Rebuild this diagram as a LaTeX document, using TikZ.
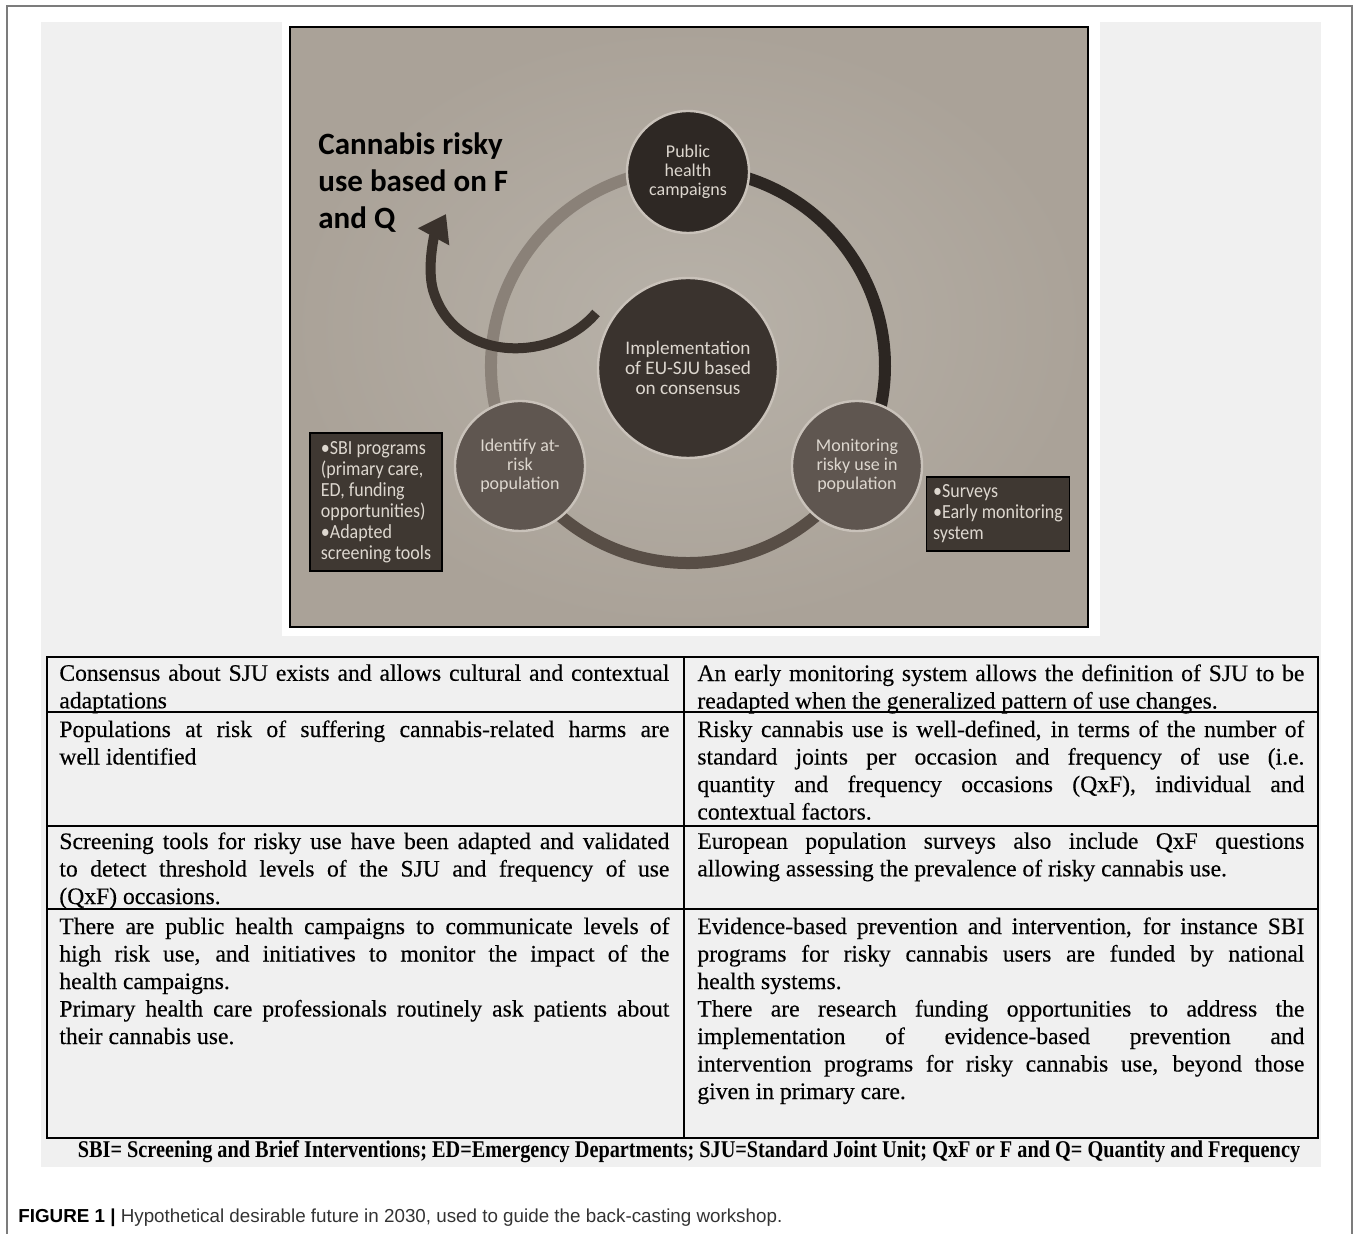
\documentclass[tikz,border=0pt]{standalone}
\usepackage{fontspec}
\setmainfont{Liberation Serif}
\setsansfont{Carlito}
\newfontfamily\capfont{Liberation Sans}
\newfontfamily\cellfont[FakeBold=0.3]{Liberation Serif}
\newfontfamily\footfont[FakeStretch=0.845]{Liberation Serif}
\newfontfamily\boxfont[FakeStretch=0.9]{Carlito}
\usetikzlibrary{arrows.meta}

\definecolor{frame}{HTML}{7C7C7C}
\definecolor{panel}{HTML}{F0F0F0}
\definecolor{slidelight}{HTML}{B8B2A9}
\definecolor{slidedark}{HTML}{AAA298}
\definecolor{ringdark}{HTML}{2C2622}
\definecolor{ringmid}{HTML}{584E46}
\definecolor{ringlight}{HTML}{8A8178}
\definecolor{topdisc}{HTML}{2E2824}
\definecolor{hubdisc}{HTML}{3A332E}
\definecolor{sidedisc}{HTML}{5F5650}
\definecolor{rim}{HTML}{C9C2BA}
\definecolor{boxfill}{HTML}{3F3832}
\definecolor{slidetext}{HTML}{DDD7CF}
\definecolor{arrowcol}{HTML}{3A322C}
\definecolor{captext}{HTML}{333333}

\hyphenpenalty=10000
\tolerance=9999

\begin{document}
\begin{tikzpicture}[x=0.5pt,y=-0.5pt,
    disc/.style={circle,draw=rim,line width=1.2pt,text=slidetext,align=center,inner sep=0pt,
      font=\sffamily\fontsize{9}{9.6}\selectfont},
    infobox/.style={draw=black,line width=0.8pt,fill=boxfill,text=slidetext,align=left,inner sep=2.5pt,
      font=\boxfont\fontsize{10}{10.5}\selectfont},
    cell/.style={anchor=north west,inner sep=0pt,align=justify,font=\cellfont\fontsize{11.8}{13.75}\selectfont},
    ring/.style={line width=6pt}]

\useasboundingbox (0,0) rectangle (1357,1234);

% page frame and grey panel
\draw[frame,line width=0.8pt] (7,1234) -- (7,6) -- (1352,6) -- (1352,1234);
\fill[panel] (41,22) rectangle (1321,1167);

% slide
\fill[white] (282,20) rectangle (1100,636);
\shade[inner color=slidelight,outer color=slidedark] (290,27) rectangle (1088,627);
\draw[line width=1pt] (290,27) rectangle (1088,627);

% the cycle
\coordinate (hub) at (688,366);
\draw[ring,ringdark] (hub) ++(-90:197) arc[start angle=-90,end angle=31,radius=197];
\draw[ring,ringmid] (hub) ++(31:197) arc[start angle=31,end angle=149,radius=197];
\draw[ring,ringlight] (hub) ++(149:197) arc[start angle=149,end angle=270,radius=197];

\draw[arrowcol,line width=5pt,-{Triangle[length=13pt,width=17pt]}]
  (596,313) .. controls (555,362) and (455,365) .. (433,290)
  .. controls (427,268) and (434,236) .. (446,214);

\node[disc,fill=topdisc,minimum size=61pt] (pub) at (688,172) {Public\\health\\campaigns};
\node[disc,fill=hubdisc,minimum size=90pt,font=\sffamily\fontsize{9.6}{10}\selectfont] (impl) at (688,368)
  {Implementation\\of EU-SJU based\\on consensus};
\node[disc,fill=sidedisc,minimum size=65pt] (ident) at (520,466) {Identify at-\\risk\\population};
\node[disc,fill=sidedisc,minimum size=65pt] (monit) at (857,466) {Monitoring\\risky use in\\population};

\node[anchor=north west,inner sep=0pt,align=left,font=\sffamily\bfseries\fontsize{15.5}{18.5}\selectfont]
  (title) at (318,132) {Cannabis risky\\use based on F\\and Q};

\node[infobox,minimum width=66pt,minimum height=69pt] (sbi) at (376,502)
  {•SBI programs\\(primary care,\\ED, funding\\opportunities)\\•Adapted\\screening tools};
\node[infobox,minimum width=71.5pt,minimum height=37pt] (surv) at (998,514)
  {•Surveys\\•Early monitoring\\system};

% table
\draw[line width=0.9pt] (47,657) rectangle (1318,1138);
\foreach \y in {712,826,909}
  \draw[line width=0.9pt] (47,\y) -- (1318,\y);
\draw[line width=0.9pt] (684,657) -- (684,1138);

\node[cell,text width=305pt] (a1) at (59,664)
  {Consensus about SJU exists and allows cultural and contextual\linebreak adaptations};
\node[cell,text width=303.5pt] (b1) at (697,664)
  {An early monitoring system allows the definition of SJU to be\linebreak readapted when the generalized pattern of use changes.};
\node[cell,text width=305pt] (a2) at (59,720)
  {Populations at risk of suffering cannabis-related harms are\linebreak well identified};
\node[cell,text width=303.5pt] (b2) at (697,720)
  {Risky cannabis use is well-defined, in terms of the number of\linebreak standard joints per occasion and frequency of use (i.e.\linebreak
   quantity and frequency occasions (QxF), individual and\linebreak contextual factors.};
\node[cell,text width=305pt] (a3) at (59,832)
  {Screening tools for risky use have been adapted and validated\linebreak to detect threshold levels of the SJU and frequency of use\linebreak
   (QxF) occasions.};
\node[cell,text width=303.5pt] (b3) at (697,832)
  {European population surveys also include QxF questions\linebreak allowing assessing the prevalence of risky cannabis use.};
\node[cell,text width=305pt] (a4) at (59,917)
  {There are public health campaigns to communicate levels of\linebreak high risk use, and initiatives to monitor the impact of the\linebreak
   health campaigns.\par
   Primary health care professionals routinely ask patients about\linebreak their cannabis use.};
\node[cell,text width=303.5pt] (b4) at (697,917)
  {Evidence-based prevention and intervention, for instance SBI\linebreak programs for risky cannabis users are funded by national\linebreak
   health systems.\par
   There are research funding opportunities to address the\linebreak implementation of evidence-based prevention and\linebreak
   intervention programs for risky cannabis use, beyond those\linebreak given in primary care.};

\node[font=\footfont\bfseries\fontsize{12}{14}\selectfont,inner sep=0pt] (abbr) at (689,1152)
  {SBI= Screening and Brief Interventions; ED=Emergency Departments; SJU=Standard Joint Unit; QxF or F and Q= Quantity and Frequency};

% caption
\node[anchor=west,inner sep=0pt,text=captext,font=\capfont\fontsize{9.4}{11}\selectfont] (cap) at (18,1218)
  {\textbf{\color{black}FIGURE 1 |} Hypothetical desirable future in 2030, used to guide the back-casting workshop.};
\end{tikzpicture}
\end{document}
